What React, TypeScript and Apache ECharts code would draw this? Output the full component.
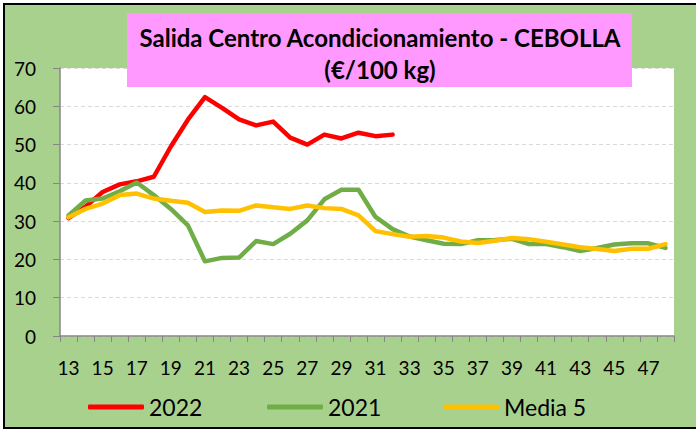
import React, { useEffect, useRef } from "react";
import * as echarts from "echarts";

const weeks = ["13","14","15","16","17","18","19","20","21","22","23","24","25","26","27","28","29","30","31","32","33","34","35","36","37","38","39","40","41","42","43","44","45","46","47","48"];
const serie2022 = [30.8, 33.8, 37.6, 39.6, 40.4, 41.6, 49.5, 56.5, 62.4, 59.6, 56.6, 55.0, 56.0, 51.8, 50.0, 52.6, 51.6, 53.1, 52.2, 52.6];
const serie2021 = [31.5, 35.4, 35.9, 37.8, 40.1, 36.8, 33.2, 28.9, 19.5, 20.4, 20.5, 24.8, 24.0, 26.7, 30.2, 35.7, 38.2, 38.2, 31.1, 27.9, 26.0, 25.0, 24.1, 24.0, 25.0, 25.1, 25.4, 24.0, 24.0, 23.2, 22.2, 23.0, 23.9, 24.2, 24.2, 23.0];
const media5 = [31.0, 33.2, 34.6, 36.8, 37.2, 35.9, 35.3, 34.8, 32.4, 32.8, 32.7, 34.1, 33.6, 33.2, 34.1, 33.4, 33.2, 31.5, 27.4, 26.6, 25.9, 26.1, 25.7, 24.7, 24.3, 24.9, 25.6, 25.3, 24.6, 23.9, 23.2, 22.7, 22.2, 22.8, 22.8, 24.0];
const seriesNames = ["2022", "2021", "Media 5"];
const titleText = "Salida Centro Acondicionamiento - CEBOLLA\n(€/100 kg)";

const FONT = "Lato, 'Noto Sans', sans-serif";

export default function App() {
  const ref = useRef<HTMLDivElement>(null);
  useEffect(() => {
    document.body.style.margin = "0";
    const chart = echarts.init(ref.current!, null, { renderer: "svg" });
    const legendBase = {
      orient: "horizontal",
      top: 394,
      padding: 0,
      itemWidth: 56,
      itemHeight: 5,
      itemGap: 0,
      icon: "roundRect",
      textStyle: { fontSize: 23, color: "#000", fontFamily: FONT, lineHeight: 26, padding: [0, 0, 0, 0] },
    };
    chart.setOption({
      animation: false,
      backgroundColor: "#ffffff",
      graphic: [
        {
          type: "rect",
          z: -100,
          silent: true,
          shape: { x: 4, y: 4, width: 720, height: 424 },
          style: { fill: "#a9d18e", stroke: "#000", lineWidth: 2 },
        },
        {
          type: "rect",
          z: 50,
          silent: true,
          shape: { x: 127, y: 13, width: 505, height: 74 },
          style: { fill: "#ff99ff" },
        },
      ],
      title: {
        text: titleText,
        left: 380,
        top: 21,
        padding: 0,
        textAlign: "center",
        z: 60,
        textStyle: { fontFamily: FONT, fontSize: 24, fontWeight: "bold", color: "#000", lineHeight: 32 },
      },
      legend: [
        { ...legendBase, left: 88, data: [seriesNames[0]] },
        { ...legendBase, left: 267, data: [seriesNames[1]] },
        { ...legendBase, left: 443, data: [seriesNames[2]] },
      ],
      grid: {
        left: 60,
        right: 22,
        top: 68,
        bottom: 94,
        show: true,
        backgroundColor: "#ffffff",
        borderWidth: 0,
      },
      xAxis: {
        type: "category",
        data: weeks,
        boundaryGap: true,
        axisLine: { show: true, lineStyle: { color: "#868686", width: 1.5 } },
        axisTick: { show: true, interval: 0, length: 6, lineStyle: { color: "#868686" } },
        axisLabel: { interval: 1, fontSize: 19, color: "#000", fontFamily: FONT, margin: 22 },
        splitLine: { show: false },
      },
      yAxis: {
        type: "value",
        min: 0,
        max: 70,
        interval: 10,
        axisLine: { show: true, lineStyle: { color: "#868686", width: 1.5 } },
        axisTick: { show: true, length: 7, lineStyle: { color: "#868686" } },
        axisLabel: { fontSize: 19, color: "#000", fontFamily: FONT, margin: 24 },
        splitLine: { show: true, lineStyle: { color: "#d9d9d9", type: [4, 3], width: 1 } },
      },
      series: [
        {
          name: seriesNames[0],
          type: "line",
          data: serie2022,
          symbol: "none",
          color: "#ff0000",
          lineStyle: { width: 4.5, color: "#ff0000", cap: "round", join: "round" },
          z: 2,
        },
        {
          name: seriesNames[1],
          type: "line",
          data: serie2021,
          symbol: "none",
          color: "#70ad47",
          lineStyle: { width: 4.5, color: "#70ad47", cap: "round", join: "round" },
          z: 3,
        },
        {
          name: seriesNames[2],
          type: "line",
          data: media5,
          symbol: "none",
          color: "#ffc000",
          lineStyle: { width: 4.5, color: "#ffc000", cap: "round", join: "round" },
          z: 4,
        },
      ],
    });
    return () => chart.dispose();
  }, []);
  return <div ref={ref} style={{ width: 696, height: 430 }} />;
}
